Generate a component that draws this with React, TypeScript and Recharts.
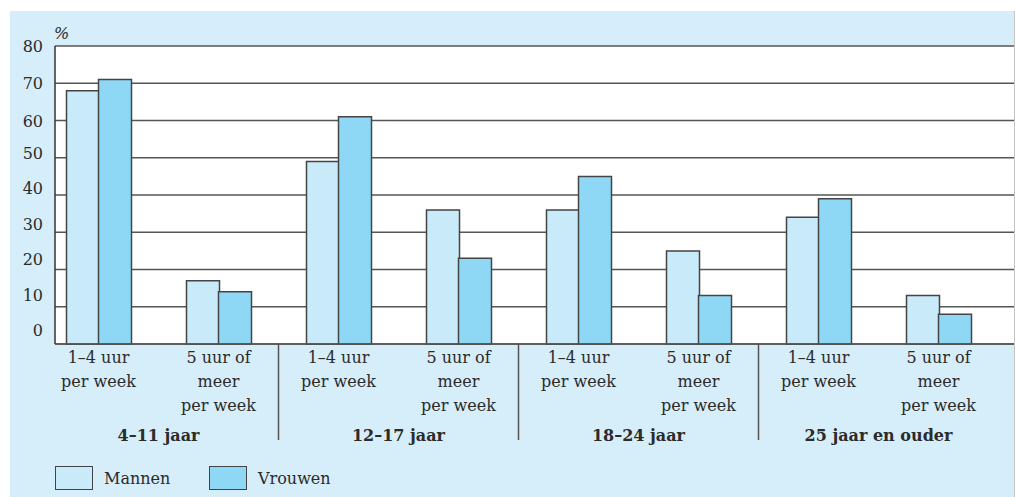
import { Bar, BarChart, CartesianGrid, XAxis, YAxis } from "recharts";

const keys = ["a1", "a2", "b1", "b2", "c1", "c2", "d1", "d2"];
const catLabels = [
  ["1–4 uur", "per week"],
  ["5 uur of", "meer", "per week"],
];
const groups = ["4–11 jaar", "12–17 jaar", "18–24 jaar", "25 jaar en ouder"];
const mannen = [68, 17, 49, 36, 36, 25, 34, 13];
const vrouwen = [71, 14, 61, 23, 45, 13, 39, 8];
const yTicks = [0, 10, 20, 30, 40, 50, 60, 70, 80];

const data = keys.map((k, i) => ({ key: k, Mannen: mannen[i], Vrouwen: vrouwen[i] }));

const FONT = "'DejaVu Serif', serif";
const TEXT = "#2b2b2b";
const MANNEN_FILL = "#c9eaf9";
const VROUWEN_FILL = "#8fd8f5";
const HALF_BAND = 60;

function XTick(props: any) {
  const { x, y, index } = props;
  const lines = catLabels[index % 2];
  const isSecond = index % 2 === 1;
  const groupIdx = Math.floor(index / 2);
  return (
    <g>
      {lines.map((l, j) => (
        <text
          key={j}
          x={x}
          y={y + 11 + j * 24}
          textAnchor="middle"
          fontFamily={FONT}
          fontSize={16}
          fill={TEXT}
        >
          {l}
        </text>
      ))}
      {isSecond && (
        <text
          x={x - HALF_BAND}
          y={y + 89}
          textAnchor="middle"
          fontFamily={FONT}
          fontSize={16}
          fontWeight="bold"
          fill={TEXT}
        >
          {groups[groupIdx]}
        </text>
      )}
      {isSecond && groupIdx < groups.length - 1 && (
        <line x1={x + HALF_BAND} x2={x + HALF_BAND} y1={y - 8} y2={y + 88} stroke="#555" strokeWidth={1.5} />
      )}
    </g>
  );
}

function YTick(props: any) {
  const { x, y, payload } = props;
  const v = payload.value;
  // labels sit a bit higher than their gridlines toward the bottom
  const dy = v >= 60 ? 0 : -5 - (50 - v) * 0.18;
  return (
    <text x={x} y={y + dy + 6} textAnchor="end" fontFamily={FONT} fontSize={16} fill={TEXT}>
      {v}
    </text>
  );
}

export default function App() {
  return (
    <div style={{ position: "absolute", left: 0, top: 0, width: 1015, height: 497, background: "#fff" }}>
      <div
        style={{
          position: "absolute",
          left: 10,
          top: 11,
          width: 1004,
          height: 486,
          background: "#d6edfa",
          borderRight: "1px solid #c4c4c4",
        }}
      />
      <div style={{ position: "absolute", left: 0, top: 0 }}>
        <BarChart
          width={1014}
          height={497}
          data={data}
          margin={{ top: 46, right: 0, left: 0, bottom: 53 }}
          barSize={33}
          barGap={-1}
        >
          <CartesianGrid vertical={false} fill="#fff" stroke="#555" strokeWidth={1.5} />
          <XAxis
            dataKey="key"
            height={100}
            padding={{ left: -16.5, right: 15.5 }}
            tickLine={false}
            axisLine={{ stroke: "#555", strokeWidth: 1.5 }}
            tick={<XTick />}
            interval={0}
          />
          <YAxis
            width={55}
            domain={[0, 80]}
            ticks={yTicks}
            tickLine={false}
            tickSize={0}
            tickMargin={12}
            axisLine={{ stroke: "#333", strokeWidth: 1.5 }}
            tick={<YTick />}
          />
          <Bar dataKey="Mannen" fill={MANNEN_FILL} stroke="#444" strokeWidth={1.5} isAnimationActive={false} />
          <Bar dataKey="Vrouwen" fill={VROUWEN_FILL} stroke="#444" strokeWidth={1.5} isAnimationActive={false} />
          <text x={54} y={39} fontFamily={FONT} fontSize={16} fontStyle="italic" fill={TEXT}>
            %
          </text>
        </BarChart>
      </div>
      <div
        style={{
          position: "absolute",
          left: 55,
          top: 466,
          display: "flex",
          alignItems: "center",
          fontFamily: FONT,
          fontSize: 16,
          color: TEXT,
        }}
      >
        <span style={{ width: 36, height: 22, background: MANNEN_FILL, border: "1.5px solid #444" }} />
        <span style={{ marginLeft: 11, width: 105 }}>Mannen</span>
        <span style={{ width: 36, height: 22, background: VROUWEN_FILL, border: "1.5px solid #444" }} />
        <span style={{ marginLeft: 11 }}>Vrouwen</span>
      </div>
    </div>
  );
}
